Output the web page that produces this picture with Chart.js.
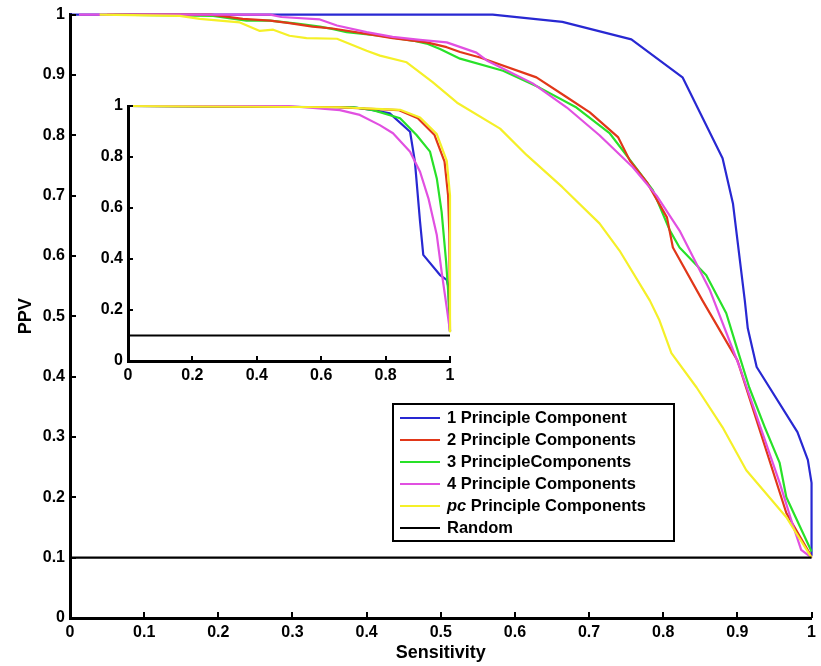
<!DOCTYPE html>
<html>
<head>
<meta charset="utf-8">
<script src="https://cdn.jsdelivr.net/npm/chart.js@4.4.1/dist/chart.umd.min.js"></script>
<style>
  html, body { margin: 0; padding: 0; background: #fff; }
  #wrap { position: relative; width: 821px; height: 666px; }
  #main { position: absolute; left: 0; top: 0; }
  #inset { position: absolute; left: 80px; top: 90px; }
</style>
</head>
<body>
<div id="wrap">
  <canvas id="main" width="821" height="666"></canvas>
  <canvas id="inset" width="390" height="310"></canvas>
</div>
<script>
// ---- series names and colours ----
const seriesNames = ['1 Principle Component', '2 Principle Components', '3 PrincipleComponents',
                     '4 Principle Components', 'pc Principle Components', 'Random'];
const italicLeads = [null, null, null, null, 'pc', null];
const seriesColors = ['rgb(40,40,210)', 'rgb(225,55,25)', 'rgb(40,225,40)',
                      'rgb(225,80,225)', 'rgb(245,240,40)', 'rgb(0,0,0)'];

// ---- main plot: sensitivity / PPV per series ----
const pc1Sens = [0, 0.57, 0.664, 0.757, 0.826, 0.88, 0.894, 0.91, 0.914, 0.926, 0.981, 0.995, 1.0, 1.0];
const pc1Ppv  = [1, 1, 0.988, 0.959, 0.896, 0.762, 0.687, 0.526, 0.48, 0.416, 0.308, 0.262, 0.224, 0.104];

const pc2Sens = [0.05, 0.19, 0.233, 0.27, 0.296, 0.327, 0.354, 0.40, 0.435, 0.481, 0.508, 0.526, 0.553, 0.629,
                 0.670, 0.701, 0.739, 0.755, 0.778, 0.805, 0.813, 0.853, 0.900, 0.966, 0.997, 1.0];
const pc2Ppv  = [1, 1, 0.993, 0.99, 0.986, 0.98, 0.977, 0.968, 0.961, 0.954, 0.946, 0.938, 0.929, 0.896,
                 0.863, 0.838, 0.797, 0.758, 0.722, 0.664, 0.614, 0.526, 0.427, 0.174, 0.108, 0.1];

const pc3Sens = [0.06, 0.193, 0.238, 0.27, 0.306, 0.337, 0.355, 0.373, 0.418, 0.462, 0.481, 0.499, 0.526, 0.584,
                 0.633, 0.683, 0.728, 0.759, 0.786, 0.809, 0.822, 0.858, 0.885, 0.899, 0.916, 0.937, 0.957,
                 0.966, 0.997, 1.0];
const pc3Ppv  = [1, 0.998, 0.99, 0.99, 0.985, 0.98, 0.976, 0.971, 0.965, 0.957, 0.952, 0.943, 0.927, 0.907,
                 0.879, 0.846, 0.803, 0.753, 0.709, 0.642, 0.614, 0.568, 0.505, 0.449, 0.382, 0.316, 0.257,
                 0.2, 0.118, 0.11];

const pc4Sens = [0.012, 0.27, 0.285, 0.337, 0.36, 0.40, 0.435, 0.472, 0.508, 0.548, 0.562, 0.624, 0.670,
                 0.714, 0.759, 0.791, 0.822, 0.863, 0.903, 0.934, 0.957, 0.974, 0.986, 1.0];
const pc4Ppv  = [1, 1, 0.996, 0.992, 0.982, 0.971, 0.963, 0.958, 0.954, 0.937, 0.924, 0.886, 0.846,
                 0.80, 0.747, 0.70, 0.642, 0.543, 0.416, 0.306, 0.224, 0.157, 0.113, 0.1];

const pcNSens = [0.04, 0.148, 0.175, 0.229, 0.256, 0.274, 0.296, 0.319, 0.36, 0.40, 0.418, 0.454, 0.489,
                 0.522, 0.58, 0.616, 0.664, 0.714, 0.741, 0.782, 0.795, 0.811, 0.845, 0.88, 0.912, 0.966, 1.0];
const pcNPpv  = [1, 0.998, 0.993, 0.987, 0.973, 0.975, 0.965, 0.961, 0.96, 0.94, 0.932, 0.921, 0.888,
                 0.854, 0.811, 0.767, 0.714, 0.654, 0.609, 0.526, 0.493, 0.439, 0.382, 0.316, 0.245, 0.167, 0.1];

const randSens = [0, 1];
const randPpv  = [0.1, 0.1];

// ---- inset plot ----
const inPc1Sens = [0, 0.7, 0.761, 0.813, 0.876, 0.891, 0.907, 0.917, 0.969, 0.99, 0.995, 1.0];
const inPc1Ppv  = [1, 0.995, 0.984, 0.971, 0.899, 0.782, 0.546, 0.416, 0.337, 0.318, 0.29, 0.116];
const inPc2Sens = [0, 0.65, 0.84, 0.90, 0.952, 0.983, 0.994, 0.998, 1.0];
const inPc2Ppv  = [1, 0.995, 0.984, 0.952, 0.886, 0.782, 0.65, 0.5, 0.116];
const inPc3Sens = [0, 0.7, 0.761, 0.845, 0.896, 0.938, 0.959, 0.974, 0.988, 0.995, 1.0];
const inPc3Ppv  = [1, 0.995, 0.984, 0.952, 0.886, 0.821, 0.716, 0.585, 0.389, 0.259, 0.116];
const inPc4Sens = [0, 0.5, 0.658, 0.72, 0.782, 0.823, 0.876, 0.907, 0.933, 0.959, 0.974, 0.99, 1.0];
const inPc4Ppv  = [1, 1, 0.984, 0.965, 0.925, 0.893, 0.821, 0.742, 0.638, 0.494, 0.35, 0.208, 0.116];
const inPcNSens = [0, 0.66, 0.845, 0.907, 0.959, 0.99, 1.0, 1.0];
const inPcNPpv  = [1, 0.995, 0.985, 0.955, 0.89, 0.785, 0.65, 0.116];
const inRandSens = [0, 1];
const inRandPpv  = [0.1, 0.1];

// ---- tick values and labels ----
const mainXTicks = [0, 0.1, 0.2, 0.3, 0.4, 0.5, 0.6, 0.7, 0.8, 0.9, 1];
const mainXLabels = ['0', '0.1', '0.2', '0.3', '0.4', '0.5', '0.6', '0.7', '0.8', '0.9', '1'];
const mainYTicks = [0, 0.1, 0.2, 0.3, 0.4, 0.5, 0.6, 0.7, 0.8, 0.9, 1];
const mainYLabels = ['0', '0.1', '0.2', '0.3', '0.4', '0.5', '0.6', '0.7', '0.8', '0.9', '1'];
const insetTicks = [0, 0.2, 0.4, 0.6, 0.8, 1];
const insetLabels = ['0', '0.2', '0.4', '0.6', '0.8', '1'];

const FONT = '"Liberation Sans", Arial, Helvetica, sans-serif';
Chart.defaults.font.family = FONT;
Chart.defaults.font.weight = 'bold';
Chart.defaults.color = '#000';

const zip = (xs, ys) => xs.map((x, i) => ({ x, y: ys[i] }));

// short tick marks pointing into the plot area
const inwardTicks = {
  id: 'inwardTicks',
  afterDraw(chart, args, opts) {
    const { ctx, chartArea, scales } = chart;
    const len = opts.length;
    ctx.save();
    ctx.strokeStyle = '#000';
    ctx.lineWidth = opts.width;
    ctx.beginPath();
    scales.x.ticks.forEach(t => {
      const px = Math.round(scales.x.getPixelForValue(t.value));
      ctx.moveTo(px, chartArea.bottom);
      ctx.lineTo(px, chartArea.bottom - len);
    });
    scales.y.ticks.forEach(t => {
      const py = Math.round(scales.y.getPixelForValue(t.value));
      ctx.moveTo(chartArea.left, py);
      ctx.lineTo(chartArea.left + len, py);
    });
    ctx.stroke();
    ctx.restore();
  }
};

// boxed legend inside the plot
const boxLegend = {
  id: 'boxLegend',
  afterDraw(chart, args, o) {
    const { ctx } = chart;
    ctx.save();
    ctx.fillStyle = '#fff';
    ctx.fillRect(o.left, o.top, o.width, o.height);
    ctx.lineWidth = 2;
    ctx.strokeStyle = '#000';
    ctx.strokeRect(o.left, o.top, o.width, o.height);
    ctx.textBaseline = 'middle';
    ctx.textAlign = 'left';
    chart.data.datasets.forEach((ds, i) => {
      const y = o.top + o.firstRow + i * o.rowGap;
      ctx.strokeStyle = ds.borderColor;
      ctx.lineWidth = 2;
      ctx.beginPath();
      ctx.moveTo(o.left + 7, y);
      ctx.lineTo(o.left + 47, y);
      ctx.stroke();
      let x = o.left + 54;
      let text = ds.label;
      ctx.fillStyle = '#000';
      if (ds.italicLead) {
        ctx.font = 'italic bold ' + o.fontSize + 'px ' + FONT;
        ctx.fillText(ds.italicLead, x, y);
        x += ctx.measureText(ds.italicLead).width;
        text = text.slice(ds.italicLead.length);
      }
      ctx.font = 'bold ' + o.fontSize + 'px ' + FONT;
      ctx.fillText(text, x, y);
    });
    ctx.restore();
  }
};

const drawOrder = [5, 3, 4, 2, 1, 0];

function makeDatasets(sets) {
  return sets.map((s, i) => ({
    label: seriesNames[i],
    italicLead: italicLeads[i],
    data: zip(s[0], s[1]),
    borderColor: seriesColors[i],
    backgroundColor: seriesColors[i],
    borderWidth: 2.2,
    pointRadius: 0,
    tension: 0,
    fill: false,
    clip: false,
    borderJoinStyle: 'round',
    order: drawOrder[i]
  }));
}

function axis(tickVals, tickLabels, fixSize, isX, title, titlePad) {
  const cfg = {
    type: 'linear',
    min: 0,
    max: 1,
    afterBuildTicks: s => { s.ticks = tickVals.map(v => ({ value: v })); },
    ticks: {
      callback: (v, i) => tickLabels[i],
      autoSkip: false,
      maxRotation: 0,
      padding: 5,
      font: { size: 16, weight: 'bold' },
      color: '#000'
    },
    grid: { display: false, drawTicks: false },
    border: { display: true, width: 3, color: '#000' },
    afterFit: s => { if (isX) s.height = fixSize; else s.width = fixSize; }
  };
  if (title) {
    cfg.title = { display: true, text: title, color: '#000',
                  font: { size: 18, weight: 'bold' }, padding: titlePad };
  }
  return cfg;
}

new Chart(document.getElementById('main'), {
  type: 'line',
  data: {
    datasets: makeDatasets([
      [pc1Sens, pc1Ppv], [pc2Sens, pc2Ppv], [pc3Sens, pc3Ppv],
      [pc4Sens, pc4Ppv], [pcNSens, pcNPpv], [randSens, randPpv]
    ])
  },
  options: {
    responsive: false,
    animation: false,
    devicePixelRatio: 1,
    layout: { padding: { left: 0, top: 14, right: 9, bottom: 0 } },
    scales: {
      x: axis(mainXTicks, mainXLabels, 48, true, 'Sensitivity', { top: 0, bottom: 2 }),
      y: axis(mainYTicks, mainYLabels, 70, false, 'PPV', { top: 15, bottom: 0 })
    },
    plugins: {
      legend: { display: false },
      tooltip: { enabled: false },
      inwardTicks: { length: 6, width: 2 },
      boxLegend: { left: 393, top: 404, width: 281, height: 137, firstRow: 14, rowGap: 22, fontSize: 16.5 }
    }
  },
  plugins: [inwardTicks, boxLegend]
});

new Chart(document.getElementById('inset'), {
  type: 'line',
  data: {
    datasets: makeDatasets([
      [inPc1Sens, inPc1Ppv], [inPc2Sens, inPc2Ppv], [inPc3Sens, inPc3Ppv],
      [inPc4Sens, inPc4Ppv], [inPcNSens, inPcNPpv], [inRandSens, inRandPpv]
    ])
  },
  options: {
    responsive: false,
    animation: false,
    devicePixelRatio: 1,
    layout: { padding: { left: 0, top: 16, right: 20, bottom: 0 } },
    scales: {
      x: axis(insetTicks, insetLabels, 39, true, null),
      y: axis(insetTicks, insetLabels, 48, false, null)
    },
    plugins: {
      legend: { display: false },
      tooltip: { enabled: false },
      inwardTicks: { length: 5, width: 2 }
    }
  },
  plugins: [inwardTicks]
});
</script>
</body>
</html>
